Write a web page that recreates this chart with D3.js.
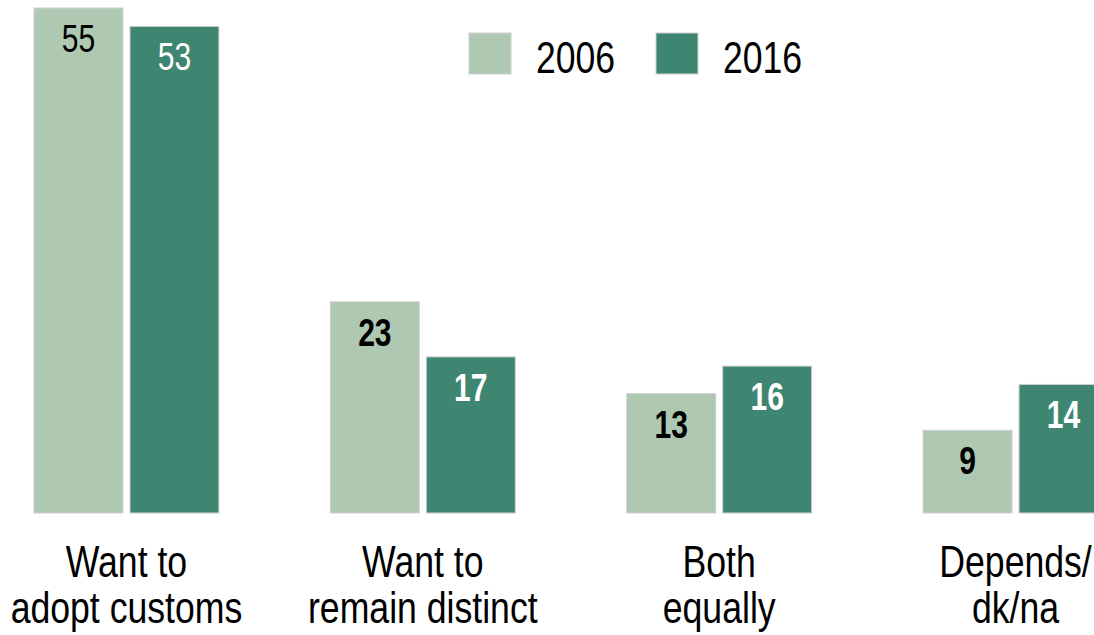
<html>
<head>
  <script src="https://cdn.jsdelivr.net/npm/d3@7/dist/d3.min.js"></script>
  <meta charset="UTF-8">
  <style>
  body { margin: 0; background: #fff; }
  svg text { font-family: "Liberation Sans", Arial, sans-serif; }
  </style>
</head>
<body>
<div id="chart"></div>
<script>

const categories = [["Want to", "adopt customs"], ["Want to", "remain distinct"], ["Both", "equally"], ["Depends/", "dk/na"]];
const years = ["2006", "2016"];
const values2006 = [55, 23, 13, 9];
const values2016 = [53, 17, 16, 14];
const colors = ["#aec8b2", "#3e8672"];

const width = 1094, height = 635;
const narrow = 0.79; // fake a narrow font by squeezing horizontally

const svg = d3.select('#chart').append('svg')
  .attr('width', width)
  .attr('height', height);

const keys = categories.map((c, i) => 'c' + i);

const x0 = d3.scaleBand()
  .domain(keys)
  .range([34, 1108])
  .paddingInner(0.376)
  .paddingOuter(0);

const x1 = d3.scaleBand()
  .domain(years)
  .range([0, x0.bandwidth()])
  .paddingInner(0.073);

const y = d3.scaleLinear()
  .domain([0, 55])
  .range([513, 8]);

const color = d3.scaleOrdinal().domain(years).range(colors);

const rows = keys.map((k, i) => ({
  key: k,
  idx: i,
  vals: [{year: years[0], v: values2006[i]}, {year: years[1], v: values2016[i]}]
}));

const groups = svg.selectAll('.group')
  .data(rows)
  .join('g')
    .attr('class', 'group')
    .attr('transform', d => `translate(${x0(d.key)},0)`);

groups.selectAll('rect')
  .data(d => d.vals)
  .join('rect')
    .attr('x', d => x1(d.year))
    .attr('y', d => y(d.v))
    .attr('width', x1.bandwidth())
    .attr('height', d => y(0) - y(d.v))
    .attr('fill', d => color(d.year))
    .attr('stroke', '#cfcfcf')
    .attr('stroke-width', 1);

// value labels (first group is not bold in the original)
groups.each(function(g) {
  d3.select(this).selectAll('.val')
    .data(g.vals)
    .join('text')
      .attr('class', 'val')
      .attr('transform', d => `translate(${x1(d.year) + x1.bandwidth() / 2},${y(d.v) + 44}) scale(${narrow},1)`)
      .attr('text-anchor', 'middle')
      .style('font-size', '38px')
      .style('font-weight', g.idx === 0 ? 'normal' : 'bold')
      .attr('fill', d => d.year === years[0] ? '#000' : '#fff')
      .text(d => d.v);
});

// category labels
groups.append('text')
  .attr('transform', `translate(${x0.bandwidth() / 2},577) scale(0.81,1)`)
  .attr('text-anchor', 'middle')
  .style('font-size', '44px')
  .attr('fill', '#000')
  .selectAll('tspan')
  .data(d => categories[d.idx])
  .join('tspan')
    .attr('x', 0)
    .attr('dy', (d, i) => i === 0 ? 0 : 46)
    .text(d => d);

// legend
const legend = svg.append('g').attr('class', 'legend');
const lx = [469, 656];
years.forEach((yr, i) => {
  legend.append('rect')
    .attr('x', lx[i])
    .attr('y', 33)
    .attr('width', 42)
    .attr('height', 41)
    .attr('fill', color(yr))
    .attr('stroke', '#cfcfcf')
    .attr('stroke-width', 1);
  legend.append('text')
    .attr('transform', `translate(${lx[i] + 67},73) scale(${narrow},1)`)
    .style('font-size', '45px')
    .attr('fill', '#000')
    .text(yr);
});

</script>
</body>
</html>
